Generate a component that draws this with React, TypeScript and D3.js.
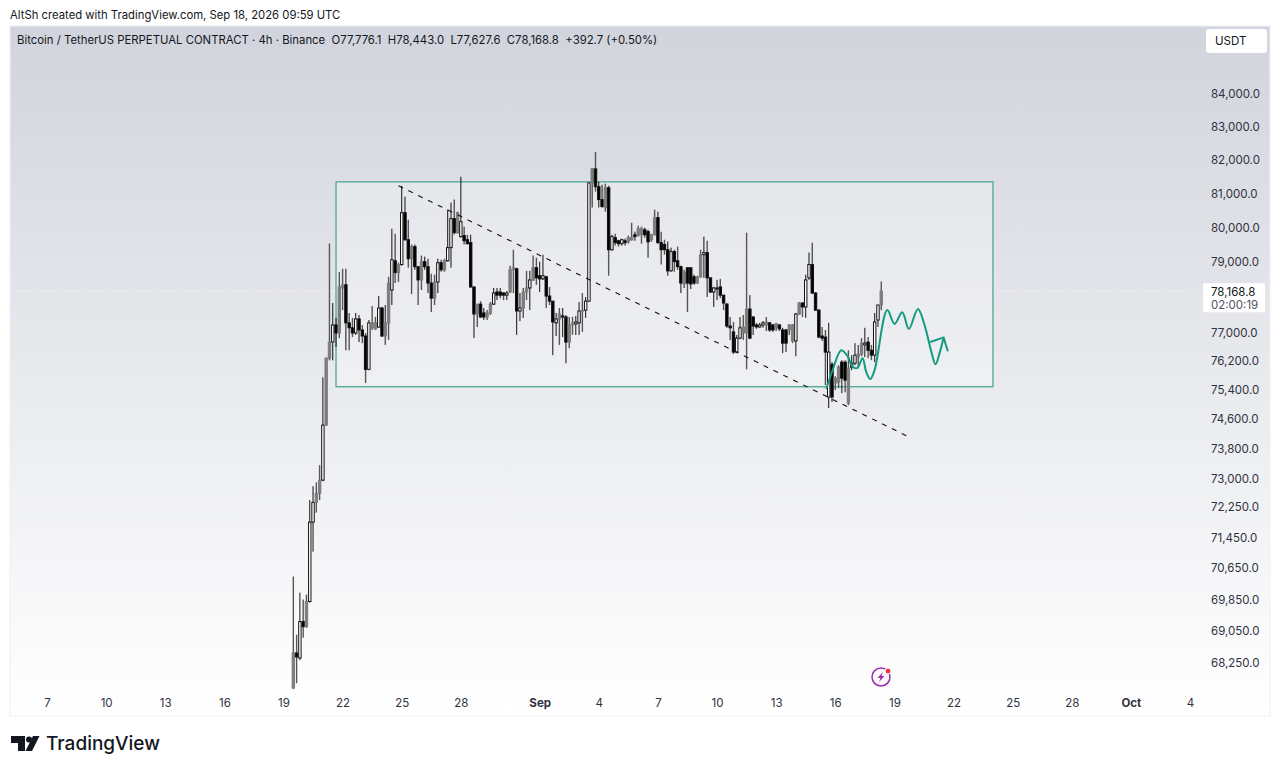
import { useEffect, useRef } from "react"
import * as d3 from "d3"

const FONT = "Inter, Roboto, sans-serif"

// 4h candles, first one opens Aug 19 2026 12:00 UTC
const firstCandle = Date.UTC(2026, 7, 19, 12)
const opens = [
  67630, 68500, 68375, 69290, 69160, 69800, 71850, 72370, 72610, 72960,
  74440, 76280, 76730, 77210, 76985, 78260, 78350, 77270, 77130, 76985,
  77380, 77070, 76900, 75970, 77130, 77100, 77150, 77690, 76900, 77270,
  78200, 79040, 78700, 78930, 80440, 79650, 79100, 79450, 78870, 78490,
  79015, 78870, 78400, 77970, 78430, 78985, 78780, 79040, 79420, 80265,
  79855, 79740, 79770, 79650, 79565, 78290, 77520, 77800, 77550, 77435,
  77550, 77800, 78145, 78145, 78115, 78055, 78145, 78780, 78810, 77605,
  77690, 78145, 78260, 78490, 78840, 78610, 78520, 78580, 78030, 77885,
  77270, 77380, 77465, 77435, 76730, 77210, 77240, 77270, 77605, 77630,
  77885, 81320, 81735, 81205, 80825, 80590, 81175, 79360, 79710, 79620,
  79535, 79620, 79590, 79650, 79795, 79770, 79795, 79940, 79885, 79650,
  79795, 80295, 79565, 79510, 79360, 78750, 79305, 79040, 78870, 78375,
  78840, 78840, 78580, 78400, 78580, 79215, 79275, 78550, 78145, 78230,
  78290, 78055, 77800, 77180, 77015, 76450, 76840, 76985, 76985, 77660,
  77435, 77210, 77155, 77210, 77210, 77270, 77210, 77130, 77210, 77070,
  77070, 77070, 76760, 76760, 77520, 77830, 77720, 78550, 78930, 78115,
  77630, 76900, 76870, 75205, 76110, 75590, 75615, 76170, 76170, 75040,
  76030, 76140, 76310, 76395, 76650, 76730, 76500, 76365, 77350, 77776.1,
]
const highs = [
  70438, 68960, 70025, 69850, 69975, 72430, 72800, 72900, 73360, 75750,
  76300, 79540, 77830, 77410, 78720, 78810, 78810, 77550, 77410, 77550,
  77490, 77210, 76985, 77350, 77750, 77440, 78030, 77720, 77775, 78580,
  79970, 79825, 78985, 81235, 80910, 80235, 79510, 79510, 78870, 79190,
  79160, 79100, 78665, 78640, 79100, 79070, 79100, 80530, 80735, 80825,
  80470, 81500, 80030, 79795, 79795, 78290, 77800, 77885, 77690, 77630,
  77860, 78260, 78260, 78260, 78145, 78170, 78900, 79360, 78840, 78115,
  78260, 78750, 78750, 79190, 79130, 79015, 79215, 78610, 78290, 77885,
  77550, 77690, 77690, 77490, 77435, 77435, 77465, 77860, 78115, 78000,
  81340, 81765, 82240, 81350, 81265, 81295, 81235, 79795, 79825, 79650,
  79680, 79680, 79770, 80145, 79885, 80060, 80030, 80000, 79940, 79825,
  80530, 80470, 79885, 79650, 79595, 79420, 79360, 79450, 78900, 78780,
  78840, 78840, 78640, 78610, 79360, 79740, 79620, 78550, 78290, 78490,
  78520, 78055, 77830, 77435, 77295, 76930, 77435, 77490, 79855, 78055,
  77465, 77270, 77270, 77320, 77435, 77295, 77240, 77270, 77240, 77130,
  77100, 77240, 77240, 77550, 77860, 77860, 78640, 79275, 79565, 78145,
  77660, 77155, 77070, 77270, 76170, 75780, 76085, 76225, 76225, 76500,
  76365, 76700, 76650, 76840, 77130, 76870, 76650, 77550, 77775, 78443,
]
const lows = [
  67580, 67750, 68320, 68880, 69135, 69770, 71080, 72100, 72430, 72930,
  74420, 76220, 76220, 76590, 76840, 77630, 76500, 76500, 76870, 76930,
  76730, 76700, 75590, 75945, 77070, 77070, 77130, 76870, 76650, 76790,
  77775, 78400, 78430, 78900, 79620, 78840, 78085, 78780, 77775, 78200,
  78780, 78115, 77575, 77775, 78115, 78725, 78725, 79015, 78840, 79800,
  79825, 79710, 79510, 79510, 78260, 76840, 77155, 77410, 77350, 77350,
  77490, 77775, 77915, 77970, 77915, 77915, 78115, 78115, 76930, 77320,
  77410, 77915, 77630, 78460, 78350, 78145, 78490, 77690, 77775, 76365,
  76900, 76650, 76870, 76140, 76560, 76930, 76930, 76930, 77015, 77410,
  77860, 80590, 81060, 80590, 80590, 80470, 78610, 79330, 79480, 79450,
  79480, 79480, 79535, 79620, 79620, 79740, 79535, 79710, 79130, 79590,
  79770, 79535, 78930, 79215, 78610, 78725, 78725, 78780, 78115, 78260,
  77575, 78230, 78350, 78375, 78550, 78550, 78000, 78115, 77720, 77915,
  77970, 77630, 77130, 76790, 76395, 76420, 76810, 76790, 75970, 76810,
  76930, 77100, 77130, 77130, 77040, 77015, 77015, 77040, 77040, 76420,
  76450, 76930, 76700, 76335, 77490, 77435, 77410, 78490, 78085, 77605,
  76840, 76760, 75535, 74905, 75070, 75400, 75450, 75315, 75340, 74985,
  75945, 76085, 76000, 76335, 76310, 76280, 76225, 76170, 77155, 77627.6,
]
const closes = [
  68501, 68400, 69290, 69160, 69800, 71850, 72370, 72610, 72960, 74440,
  76280, 76730, 77210, 76985, 78290, 78350, 77270, 77130, 76985, 77380,
  77070, 76900, 75970, 77270, 77270, 77270, 77690, 76900, 77270, 78400,
  79070, 78700, 78930, 80440, 79650, 79100, 79450, 78870, 78490, 79015,
  78870, 78400, 77970, 78430, 78985, 78780, 79040, 79420, 80265, 79855,
  80440, 80175, 79620, 79535, 78290, 77520, 77800, 77435, 77435, 77550,
  77800, 78115, 78055, 78055, 78055, 78115, 78780, 78840, 77605, 77690,
  78145, 78260, 78490, 78840, 78550, 78520, 78610, 78030, 77885, 77295,
  77380, 77520, 77435, 76730, 77210, 77270, 77295, 77605, 77630, 77885,
  81320, 81735, 81205, 80825, 80620, 81175, 79360, 79740, 79565, 79535,
  79650, 79565, 79710, 79710, 79740, 79970, 79970, 79795, 79590, 79795,
  80295, 79565, 79360, 79360, 78750, 79305, 79015, 78870, 78400, 78700,
  78400, 78375, 78400, 78580, 79215, 79275, 78550, 78145, 78260, 78260,
  78055, 77830, 77180, 77130, 76450, 76840, 77130, 77155, 77660, 76840,
  77180, 77155, 77210, 77270, 77295, 77070, 77070, 77240, 77100, 76700,
  76700, 77210, 77210, 77520, 77830, 77720, 78490, 78930, 78115, 77630,
  76870, 76840, 76450, 76450, 75205, 75725, 76030, 75725, 75670, 76000,
  76140, 76365, 76395, 76700, 76700, 76500, 76365, 77295, 77775, 78168.8,
]

const priceTicks = [
  84000, 83000, 82000, 81000, 80000, 79000, 77000, 76200, 75400, 74600, 73800,
  73000, 72250, 71450, 70650, 69850, 69050, 68250,
]
const dateTicks = [
  [7, 7], [7, 10], [7, 13], [7, 16], [7, 19], [7, 22], [7, 25], [7, 28],
  [8, 1], [8, 4], [8, 7], [8, 10], [8, 13], [8, 16], [8, 19], [8, 22], [8, 25], [8, 28],
  [9, 1], [9, 4],
]
const lastPrice = 78168.8

// drawings, all in hours after Aug 19 00:00 UTC / price
const boxHours = [64, 864]
const boxPrices = [81350, 75490]
const trendHours = [140, 760]
const trendPrices = [81235, 74137]
const forecastHours = [
  661, 668.7, 679.3, 687, 693, 699, 705.2, 709.7, 714.6, 719.8, 735.3, 744.2,
  753.6, 761.6, 772.6, 780.7, 788.9, 794.1, 799, 803.9,
]
const forecastPrices = [
  75425, 75945, 76500, 76335, 76040, 76010, 76280, 75900, 75700, 75945, 77630,
  77240, 77570, 77100, 77660, 77210, 76465, 76110, 76420, 76860,
]
const arrowHours = [787.7, 803.9, 809.1]
const arrowPrices = [76730, 76860, 76475]

// narrow candles go grey when they fall between two pixels in the screenshot
const isBlurred = (px: number) => {
  const f = px - Math.floor(px)
  return f >= 0.1 && f < 0.65
}

const App = () => {
  const ref = useRef<SVGSVGElement>(null)

  useEffect(() => {
    const svg = d3.select(ref.current)
    svg.selectAll("*").remove()

    const x = d3
      .scaleUtc()
      .domain([new Date(Date.UTC(2026, 7, 7)), new Date(Date.UTC(2026, 9, 4))])
      .range([47, 1190])
    const y = d3.scaleLog().domain([68250, 84000]).range([663, 94])
    const hourX = (h: number) => x(new Date(Date.UTC(2026, 7, 19) + h * 3600000))

    // background
    const defs = svg.append("defs")
    const grad = defs
      .append("linearGradient")
      .attr("id", "bg")
      .attr("x1", 0)
      .attr("x2", 0)
      .attr("y1", 0)
      .attr("y2", 1)
    grad.append("stop").attr("offset", "0%").attr("stop-color", "#d1d4dc")
    grad.append("stop").attr("offset", "100%").attr("stop-color", "#ffffff")
    defs
      .append("clipPath")
      .attr("id", "pane")
      .append("rect")
      .attr("x", 10)
      .attr("y", 26)
      .attr("width", 1186)
      .attr("height", 663)

    svg.append("rect").attr("width", 1280).attr("height", 772).attr("fill", "#fff")
    svg
      .append("rect")
      .attr("x", 10)
      .attr("y", 26)
      .attr("width", 1260)
      .attr("height", 690)
      .attr("fill", "url(#bg)")
      .attr("stroke", "#eef0f3")

    // last price line
    svg
      .append("line")
      .attr("x1", 10)
      .attr("x2", 1196)
      .attr("y1", y(lastPrice))
      .attr("y2", y(lastPrice))
      .attr("stroke", "#fff")
      .attr("stroke-dasharray", "1 2")
      .attr("opacity", 0.8)

    const pane = svg.append("g").attr("clip-path", "url(#pane)")

    // box
    pane
      .append("rect")
      .attr("x", hourX(boxHours[0]))
      .attr("y", y(boxPrices[0]))
      .attr("width", hourX(boxHours[1]) - hourX(boxHours[0]))
      .attr("height", y(boxPrices[1]) - y(boxPrices[0]))
      .attr("fill", "#ffffff")
      .attr("fill-opacity", 0.28)
      .attr("stroke", "#56ad9c")
      .attr("stroke-width", 1.4)

    // candles
    const candles = opens.map((o, i) => ({
      t: new Date(firstCandle + i * 4 * 3600000),
      o,
      h: highs[i],
      l: lows[i],
      c: closes[i],
    }))
    const g = pane.append("g")
    g.selectAll("line")
      .data(candles)
      .enter()
      .append("line")
      .attr("x1", (d) => x(d.t))
      .attr("x2", (d) => x(d.t))
      .attr("y1", (d) => y(d.h))
      .attr("y2", (d) => y(d.l))
      .attr("stroke", (d) => (isBlurred(x(d.t)) ? "#555" : "#111"))
      .attr("stroke-width", (d) => (isBlurred(x(d.t)) ? 1.4 : 1))
    g.selectAll("rect")
      .data(candles)
      .enter()
      .append("rect")
      .attr("x", (d) => x(d.t) - 1.2)
      .attr("width", 2.4)
      .attr("y", (d) => y(Math.max(d.o, d.c)))
      .attr("height", (d) => Math.max(1, Math.abs(y(d.o) - y(d.c))))
      .attr("fill", (d) => {
        if (d.c < d.o) return "#000"
        return isBlurred(x(d.t)) ? "#7d7d7d" : "#fff"
      })
      .attr("stroke", (d) => (d.c >= d.o && isBlurred(x(d.t)) ? "#7d7d7d" : "#111"))
      .attr("stroke-width", 1)

    // dashed trend line
    pane
      .append("line")
      .attr("x1", hourX(trendHours[0]))
      .attr("x2", hourX(trendHours[1]))
      .attr("y1", y(trendPrices[0]))
      .attr("y2", y(trendPrices[1]))
      .attr("stroke", "#111")
      .attr("stroke-width", 1.1)
      .attr("stroke-dasharray", "5 6")

    // forecast brush with arrow head
    const curve = d3
      .line<number>()
      .x((h) => hourX(h))
      .y((_, i) => y(forecastPrices[i]))
      .curve(d3.curveCatmullRom)
    pane
      .append("path")
      .attr("d", curve(forecastHours))
      .attr("fill", "none")
      .attr("stroke", "#139a80")
      .attr("stroke-width", 2)
    const arrow = d3
      .line<number>()
      .x((h) => hourX(h))
      .y((_, i) => y(arrowPrices[i]))
    pane
      .append("path")
      .attr("d", arrow(arrowHours))
      .attr("fill", "none")
      .attr("stroke", "#139a80")
      .attr("stroke-width", 2)

    // axes
    const yAxis = svg
      .append("g")
      .attr("transform", "translate(1209,0)")
      .call(
        d3
          .axisRight(y)
          .tickValues(priceTicks)
          .tickSize(0)
          .tickPadding(2)
          .tickFormat((d) => d3.format(",.1f")(+d))
      )
    yAxis.select(".domain").remove()
    yAxis
      .selectAll("text")
      .attr("font-family", FONT)
      .attr("font-size", 11.5)
      .attr("fill", "#2f3240")

    const xAxis = svg
      .append("g")
      .attr("transform", "translate(0,699)")
      .call(
        d3
          .axisBottom(x)
          .tickValues(dateTicks.map((d) => new Date(Date.UTC(2026, d[0], d[1]))))
          .tickSize(0)
          .tickPadding(0)
          .tickFormat((d) => {
            const dt = d as Date
            if (dt.getUTCDate() === 1) return dt.getUTCMonth() === 8 ? "Sep" : "Oct"
            return String(dt.getUTCDate())
          })
      )
    xAxis.select(".domain").remove()
    xAxis
      .selectAll("text")
      .attr("font-family", FONT)
      .attr("font-size", 11.5)
      .attr("fill", "#2f3240")
      .attr("font-weight", (d) => ((d as Date).getUTCDate() === 1 ? 700 : 400))

    // last price label and currency button
    svg
      .append("rect")
      .attr("x", 1203)
      .attr("y", y(lastPrice) - 8)
      .attr("width", 62)
      .attr("height", 29)
      .attr("rx", 2)
      .attr("fill", "#fff")
    svg
      .append("text")
      .attr("x", 1211)
      .attr("y", y(lastPrice) + 5)
      .attr("font-family", FONT)
      .attr("font-size", 11.5)
      .attr("fill", "#131722")
      .text(d3.format(",.1f")(lastPrice))
    svg
      .append("text")
      .attr("x", 1211)
      .attr("y", y(lastPrice) + 18)
      .attr("font-family", FONT)
      .attr("font-size", 11.5)
      .attr("fill", "#50535e")
      .text("02:00:19")
    svg
      .append("rect")
      .attr("x", 1206)
      .attr("y", 29)
      .attr("width", 61)
      .attr("height", 24)
      .attr("rx", 3)
      .attr("fill", "#fff")
    svg
      .append("text")
      .attr("x", 1215)
      .attr("y", 45)
      .attr("font-family", FONT)
      .attr("font-size", 11.5)
      .attr("fill", "#131722")
      .text("USDT")

    // header texts
    svg
      .append("text")
      .attr("x", 10)
      .attr("y", 19)
      .attr("font-family", FONT)
      .attr("font-size", 11.3)
      .attr("fill", "#131722")
      .text("AltSh created with TradingView.com, Sep 18, 2026 09:59 UTC")
    svg
      .append("text")
      .attr("x", 17)
      .attr("y", 44)
      .attr("font-family", FONT)
      .attr("font-size", 11.35)
      .attr("fill", "#131722")
      .style("white-space", "pre")
      .text(
        "Bitcoin / TetherUS PERPETUAL CONTRACT · 4h · Binance  O77,776.1  H78,443.0  L77,627.6  C78,168.8  +392.7 (+0.50%)"
      )

    // lightning badge
    const badge = svg.append("g").attr("transform", "translate(881,677)")
    badge
      .append("circle")
      .attr("r", 9)
      .attr("fill", "none")
      .attr("stroke", "#9c27b0")
      .attr("stroke-width", 1.5)
    badge
      .append("path")
      .attr("d", "M2,-5 L-3.5,1 L-0.5,1 L-2,5 L3.5,-1 L0.5,-1 Z")
      .attr("fill", "#9c27b0")
    badge
      .append("circle")
      .attr("cx", 7)
      .attr("cy", -6)
      .attr("r", 3)
      .attr("fill", "#f23645")
      .attr("stroke", "#fff")

    // logo
    const logo = svg.append("g").attr("fill", "#131722")
    logo.append("path").attr("d", "M11,736 H25 V751 H18 V743 H11 Z")
    logo.append("circle").attr("cx", 29).attr("cy", 739.5).attr("r", 3)
    logo.append("path").attr("d", "M33,736 H39.5 L32,751 H25.5 Z")
    logo
      .append("text")
      .attr("x", 46)
      .attr("y", 750)
      .attr("font-family", "Inter, sans-serif")
      .attr("font-size", 19)
      .attr("font-weight", 500)
      .text("TradingView")
  }, [])

  return (
    <svg
      ref={ref}
      width={1280}
      height={772}
      style={{ position: "absolute", left: 0, top: 0 }}
    />
  )
}

export default App
